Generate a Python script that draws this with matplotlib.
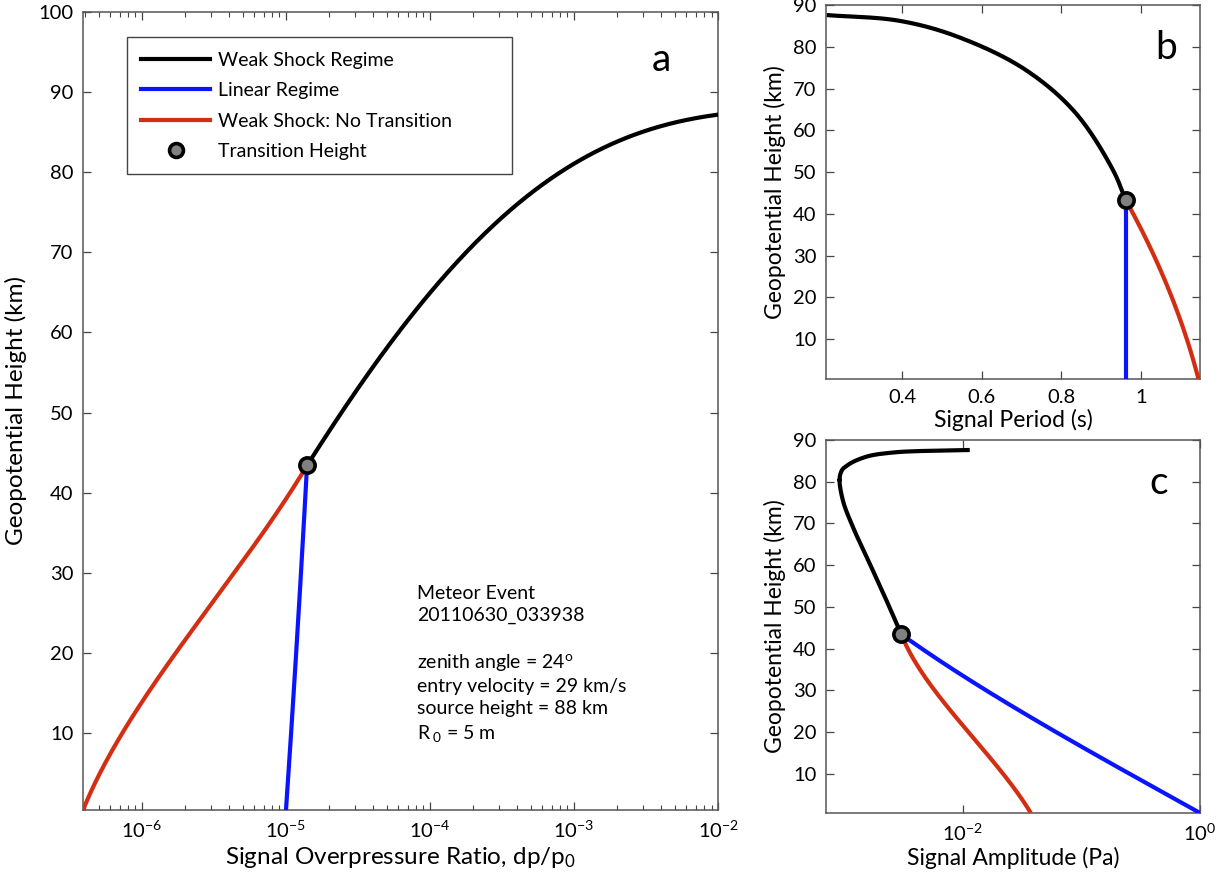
import numpy as np
import matplotlib
matplotlib.use("Agg")
import matplotlib.pyplot as plt
from matplotlib.lines import Line2D
from matplotlib.ticker import FixedLocator, FixedFormatter, NullLocator

plt.rcParams['font.family'] = ['Lato', 'DejaVu Sans']
plt.rcParams['mathtext.fontset'] = 'custom'
plt.rcParams['mathtext.rm'] = 'Lato'
plt.rcParams['mathtext.it'] = 'Lato:italic'

# colours used by the three regimes
C_SHOCK = 'black'
C_LIN = '#0a14ff'
C_NOTR = '#d42e12'

# ---- panel a: overpressure ratio (dp/p0) vs height (km)
a_shock_x = [1.40e-5, 3.1e-5, 6.9e-5, 1.53e-4, 3.41e-4, 7.6e-4, 1.69e-3, 3.75e-3, 1.0e-2, 2.0e-2]
a_shock_h = [43.4, 52.8, 61.5, 68.6, 74.8, 79.8, 83.3, 85.6, 87.1, 87.7]
a_lin_x = [1.0e-5, 1.2e-5, 1.40e-5]
a_lin_h = [0.4, 22.5, 43.4]
a_notr_x = [3.9e-7, 7.0e-7, 1.41e-6, 3.13e-6, 6.95e-6, 1.32e-5, 1.40e-5]
a_notr_h = [0.4, 9.5, 17.9, 26.2, 35.3, 42.4, 43.4]
a_trans = (1.40e-5, 43.4)

# ---- panel b: signal period (s) vs height (km)
b_shock_x = [0.211, 0.395, 0.5455, 0.713, 0.838, 0.93, 0.961]
b_shock_h = [87.6, 86.2, 82.2, 74.3, 63.9, 50.4, 43.4]
b_lin_x = [0.961, 0.961]
b_lin_h = [0.4, 43.4]
b_notr_x = [0.961, 1.0055, 1.047, 1.089, 1.14, 1.148]
b_notr_h = [43.4, 36.1, 27.3, 16.2, 0.7, -1.0]
b_trans = (0.961, 43.4)

# ---- panel c: signal amplitude (Pa) vs height (km)
c_shock_x = [1.15e-2, 4.97e-3, 2.6e-3, 1.55e-3, 1.08e-3, 9.5e-4, 9.2e-4, 9.8e-4, 1.19e-3, 1.65e-3, 2.28e-3, 3.05e-3]
c_shock_h = [87.6, 87.4, 87.0, 86.0, 84.0, 82.4, 80.4, 75.6, 69.2, 60.4, 51.6, 43.4]
c_lin_x = [3.05e-3, 4.97e-3, 9.48e-3, 1.82e-2, 3.48e-2, 6.65e-2, 0.127, 0.243, 0.466, 1.0]
c_lin_h = [43.4, 39.6, 34.0, 28.8, 24.0, 19.2, 14.8, 10.4, 6.0, 0.56]
c_notr_x = [3.05e-3, 4.37e-3, 6.03e-3, 9.48e-3, 1.60e-2, 2.36e-2, 3.05e-2, 3.76e-2]
c_notr_h = [43.4, 35.6, 29.2, 22.0, 14.8, 9.2, 4.4, 0.56]
c_trans = (3.05e-3, 43.4)

info_lines = ['Meteor Event', '20110630_033938', '',
              r'zenith angle = 24$^{\mathrm{o}}$',
              'entry velocity = 29 km/s',
              'source height = 88 km',
              r'R$_{\mathrm{\ 0}}$ = 5 m']

LW = 3.0
TICK_FS = 14.5


def polyline(xs, hs, logx, along='h', deg=3, n=300):
    """Smooth least-squares polynomial through the read-off points, ends pinned."""
    xv = np.log10(np.asarray(xs, float)) if logx else np.asarray(xs, float)
    hv = np.asarray(hs, float)
    deg = min(deg, len(xv) - 1)
    w = np.ones(len(xv))
    w[0] = w[-1] = 20.0
    if along == 'h':
        c = np.polyfit(hv, xv, deg, w=w)
        h = np.linspace(hv.min(), hv.max(), n)
        x = np.polyval(c, h)
    else:
        c = np.polyfit(xv, hv, deg, w=w)
        x = np.linspace(xv.min(), xv.max(), n)
        h = np.polyval(c, x)
    return (10 ** x if logx else x), h


def spline(xs, hs, logx, n=30):
    """Centripetal Catmull-Rom through the read-off points (for the curved-over lines)."""
    xv = np.log10(np.asarray(xs, float)) if logx else np.asarray(xs, float)
    hv = np.asarray(hs, float)
    sx = np.ptp(xv) or 1.0
    pts = np.column_stack([xv / sx, hv / 100.0])
    p = np.vstack([2 * pts[0] - pts[1], pts, 2 * pts[-1] - pts[-2]])
    segs = []
    for i in range(1, len(p) - 2):
        p0, p1, p2, p3 = p[i - 1], p[i], p[i + 1], p[i + 2]
        t0 = 0.0
        t1 = t0 + np.linalg.norm(p1 - p0) ** 0.5
        t2 = t1 + np.linalg.norm(p2 - p1) ** 0.5
        t3 = t2 + np.linalg.norm(p3 - p2) ** 0.5
        t = np.linspace(t1, t2, n)[:, None]
        a1 = (t1 - t) / (t1 - t0) * p0 + (t - t0) / (t1 - t0) * p1
        a2 = (t2 - t) / (t2 - t1) * p1 + (t - t1) / (t2 - t1) * p2
        a3 = (t3 - t) / (t3 - t2) * p2 + (t - t2) / (t3 - t2) * p3
        b1 = (t2 - t) / (t2 - t0) * a1 + (t - t0) / (t2 - t0) * a2
        b2 = (t3 - t) / (t3 - t1) * a2 + (t - t1) / (t3 - t1) * a3
        segs.append((t2 - t) / (t2 - t1) * b1 + (t - t1) / (t2 - t1) * b2)
    out = np.vstack(segs)
    x = out[:, 0] * sx
    return (10 ** x if logx else x), out[:, 1] * 100.0


def style(ax):
    ax.tick_params(which='both', direction='in', top=True, right=True,
                   labelsize=TICK_FS, color='#444444', pad=7)
    ax.tick_params(which='major', length=6, width=0.9)
    ax.tick_params(which='minor', length=3.5, width=0.8)
    for s in ax.spines.values():
        s.set_color('#555555')
        s.set_linewidth(1.1)


def plot_line(ax, xy, color):
    ax.plot(xy[0], xy[1], color=color, lw=LW, solid_capstyle='butt', zorder=3)


def mark(ax, trans):
    ax.plot([trans[0]], [trans[1]], 'o', ms=11, mfc='#808080', mec='black', mew=2.6, zorder=5)


fig = plt.figure(figsize=(12.25, 8.86), dpi=100)
ax_a = fig.add_axes([0.0678, 0.0858, 0.5184, 0.9007])
ax_b = fig.add_axes([0.6743, 0.5722, 0.3053, 0.4221])
ax_c = fig.add_axes([0.6743, 0.0824, 0.3053, 0.4210])

# panel a
ax_a.set_xscale('log')
plot_line(ax_a, polyline(a_notr_x, a_notr_h, True, 'h', 3), C_NOTR)
plot_line(ax_a, polyline(a_lin_x, a_lin_h, True, 'h', 2), C_LIN)
plot_line(ax_a, polyline(a_shock_x, a_shock_h, True, 'x', 4), C_SHOCK)
mark(ax_a, a_trans)
ax_a.set_xlim(3.9e-7, 1e-2)
ax_a.set_ylim(0.4, 100)
ax_a.set_yticks(range(10, 101, 10))
ax_a.set_xticks([1e-6, 1e-5, 1e-4, 1e-3, 1e-2])
style(ax_a)
ax_a.set_xlabel(r'Signal Overpressure Ratio, dp/p$_{\mathrm{0}}$', fontsize=17.5, labelpad=3)
ax_a.set_ylabel('Geopotential Height (km)', fontsize=17.5, labelpad=8)
ax_a.text(0.91, 0.94, 'a', transform=ax_a.transAxes, fontsize=28, ha='center', va='center')
ax_a.text(0.526, 0.282, '\n'.join(info_lines), transform=ax_a.transAxes,
          fontsize=14, ha='left', va='top', linespacing=1.36)

handles = [Line2D([], [], color=C_SHOCK, lw=LW),
           Line2D([], [], color=C_LIN, lw=LW),
           Line2D([], [], color=C_NOTR, lw=LW),
           Line2D([], [], ls='none', marker='o', ms=10, mfc='#808080', mec='black', mew=2.6)]
leg = ax_a.legend(handles, ['Weak Shock Regime', 'Linear Regime', 'Weak Shock: No Transition', 'Transition Height'],
                  loc='upper left', bbox_to_anchor=(0.069, 0.0, 0.606, 0.968), mode='expand',
                  fontsize=14, frameon=True, fancybox=False, handlelength=3.55,
                  handletextpad=0.4, labelspacing=0.68, borderpad=0.75, borderaxespad=0,
                  edgecolor='#444444', framealpha=1)
leg.get_frame().set_linewidth(1.0)

# panel b
plot_line(ax_b, polyline(b_notr_x, b_notr_h, False, 'h', 2), C_NOTR)
plot_line(ax_b, (b_lin_x, b_lin_h), C_LIN)
plot_line(ax_b, spline(b_shock_x, b_shock_h, False), C_SHOCK)
mark(ax_b, b_trans)
ax_b.set_xlim(0.209, 1.148)
ax_b.set_ylim(0.45, 90)
ax_b.xaxis.set_major_locator(FixedLocator([0.4, 0.6, 0.8, 1.0]))
ax_b.xaxis.set_major_formatter(FixedFormatter(['0.4', '0.6', '0.8', '1']))
ax_b.set_yticks(range(10, 91, 10))
style(ax_b)
ax_b.set_xlabel('Signal Period (s)', fontsize=16.5, labelpad=2)
ax_b.set_ylabel('Geopotential Height (km)', fontsize=16.5, labelpad=5)
ax_b.text(0.91, 0.885, 'b', transform=ax_b.transAxes, fontsize=28, ha='center', va='center')

# panel c
ax_c.set_xscale('log')
plot_line(ax_c, polyline(c_notr_x, c_notr_h, True, 'h', 3), C_NOTR)
plot_line(ax_c, polyline(c_lin_x, c_lin_h, True, 'h', 3), C_LIN)
plot_line(ax_c, spline(c_shock_x, c_shock_h, True), C_SHOCK)
mark(ax_c, c_trans)
ax_c.set_xlim(10 ** -3.15, 1.0)
ax_c.set_ylim(0.56, 90)
ax_c.set_xticks([1e-2, 1e0])
ax_c.xaxis.set_minor_locator(NullLocator())
ax_c.set_yticks(range(10, 91, 10))
style(ax_c)
ax_c.set_xlabel('Signal Amplitude (Pa)', fontsize=16.5, labelpad=2)
ax_c.set_ylabel('Geopotential Height (km)', fontsize=16.5, labelpad=5)
ax_c.text(0.89, 0.885, 'c', transform=ax_c.transAxes, fontsize=28, ha='center', va='center')

fig.savefig('out.png', dpi=100)
